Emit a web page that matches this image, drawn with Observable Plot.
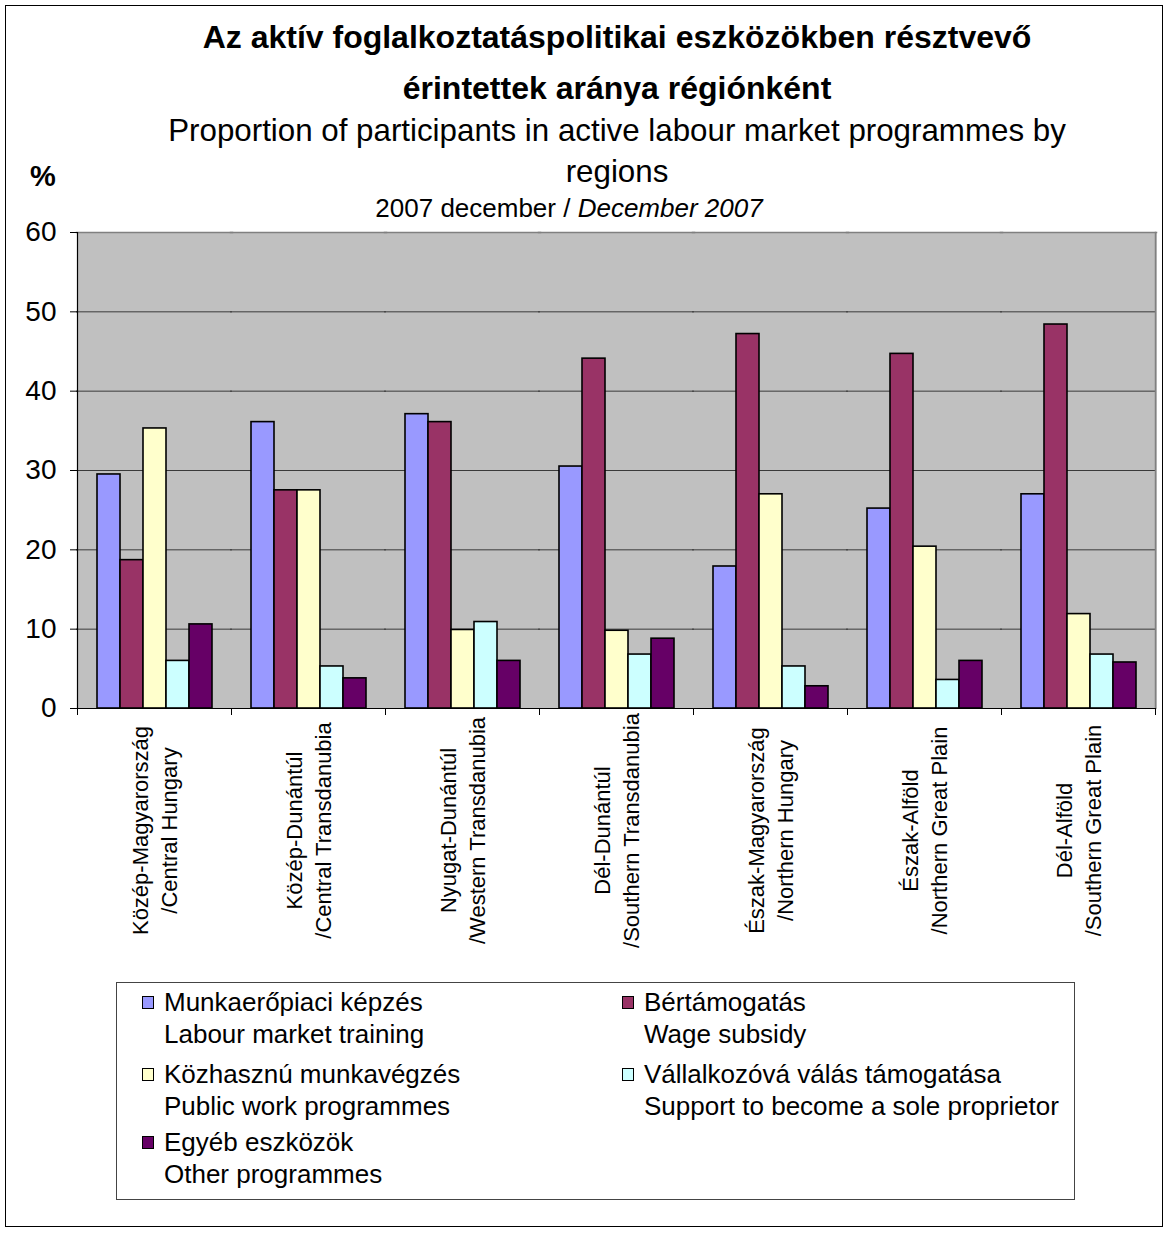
<!DOCTYPE html>
<html><head><meta charset="utf-8">
<script src="https://cdn.jsdelivr.net/npm/d3@7"></script>
<script src="https://cdn.jsdelivr.net/npm/@observablehq/plot@0.6"></script>
<style>
body{margin:0;background:#fff;font-family:"Liberation Sans",Arial,sans-serif;color:#000;}
#page{position:relative;width:1167px;height:1234px;overflow:hidden;}
#border{position:absolute;left:5px;top:5px;width:1158px;height:1222px;border:1px solid #000;box-sizing:border-box;}
.t{position:absolute;left:0;width:1234px;text-align:center;white-space:nowrap;line-height:1;}
#chart{position:absolute;left:0;top:200px;}
#legend{position:absolute;left:116px;top:982px;width:959px;height:218px;border:1px solid #444;box-sizing:border-box;}
.item{position:absolute;font-size:26px;line-height:32px;white-space:nowrap;}
.sw{position:absolute;width:10px;height:11px;border:1.5px solid #000;}
</style></head>
<body><div id="page">
<div id="border"></div>
<div class="t" style="top:21px;font-size:32px;font-weight:bold;">Az aktív foglalkoztatáspolitikai eszközökben résztvevő</div>
<div class="t" style="top:72px;font-size:32px;font-weight:bold;">érintettek aránya régiónként</div>
<div class="t" style="top:115px;font-size:31.3px;">Proportion of participants in active labour market programmes by</div>
<div class="t" style="top:156px;font-size:31.3px;">regions</div>
<div class="t" style="top:195px;font-size:26px;left:0;width:1138px;">2007 december / <i>December 2007</i></div>
<div style="position:absolute;left:30px;top:162px;font-size:29px;font-weight:bold;line-height:1;">%</div>
<div id="chart"></div>
<div id="legend"></div>
</div>
<script>
const regions = ["Közép-Magyarország","Közép-Dunántúl","Nyugat-Dunántúl","Dél-Dunántúl","Észak-Magyarország","Észak-Alföld","Dél-Alföld"];
const regionsEn = ["/Central Hungary","/Central Transdanubia","/Western Transdanubia","/Southern Transdanubia","/Northern Hungary","/Northern Great Plain","/Southern Great Plain"];
const seriesHu = ["Munkaerőpiaci képzés","Bértámogatás","Közhasznú munkavégzés","Vállalkozóvá válás támogatása","Egyéb eszközök"];
const seriesEn = ["Labour market training","Wage subsidy","Public work programmes","Support to become a sole proprietor","Other programmes"];
const colors = ["#9999FF","#993366","#FFFFCC","#CCFFFF","#660066"];
const training       = [29.5, 36.1, 37.1, 30.5, 17.9, 25.2, 27.0];
const wageSubsidy    = [18.7, 27.5, 36.1, 44.1, 47.2, 44.7, 48.4];
const publicWork     = [35.3, 27.5,  9.9,  9.8, 27.0, 20.4, 11.9];
const soleProprietor = [ 6.0,  5.3, 10.9,  6.8,  5.3,  3.6,  6.8];
const otherProgs     = [10.6,  3.8,  6.0,  8.8,  2.8,  6.0,  5.8];
const yTicks = [0, 10, 20, 30, 40, 50, 60];

const seriesValues = [training, wageSubsidy, publicWork, soleProprietor, otherProgs];
const table = [];
regions.forEach((r, i) => seriesHu.forEach((s, j) => table.push({region: r, series: s, value: seriesValues[j][i]})));
const labels = regions.map((r, i) => ({region: r, label: r + "\n" + regionsEn[i]}));

const chart = Plot.plot({
  width: 1167, height: 760,
  marginTop: 32, marginBottom: 252, marginLeft: 75, marginRight: 11,
  style: {fontFamily: "Liberation Sans, Arial, sans-serif", background: "transparent", color: "#000"},
  fx: {domain: regions, padding: 0, axis: null, label: null},
  x: {domain: seriesHu, paddingInner: 0, paddingOuter: 0.78, axis: null},
  y: {domain: [0, 60], axis: null},
  color: {domain: seriesHu, range: colors},
  marks: [
    Plot.frame({fill: "#c0c0c0", insetLeft: -1, insetRight: -1, shapeRendering: "crispEdges"}),
    Plot.gridY(yTicks, {stroke: "#3a3a3a", strokeOpacity: 1, strokeWidth: 1, insetLeft: -1, insetRight: -1}),
    Plot.frame({anchor: "top", stroke: "#808080", strokeWidth: 1.5, insetLeft: -1, insetRight: -1}),
    Plot.frame({anchor: "right", stroke: "#808080", strokeWidth: 1.5, facetAnchor: "right"}),
    Plot.barY(table, {fx: "region", x: "series", y: "value", fill: "series", stroke: "#000", strokeWidth: 1.6}),
    Plot.ruleY([0], {stroke: "#000", strokeWidth: 1.2, insetLeft: -1, insetRight: -1}),
    Plot.frame({anchor: "left", stroke: "#000", strokeWidth: 1.2, facetAnchor: "left"}),
    Plot.frame({anchor: "left", stroke: "#000", insetTop: 476, insetBottom: -6}),
    Plot.frame({anchor: "right", stroke: "#000", insetTop: 476, insetBottom: -6}),
    Plot.axisY(yTicks, {tickSize: 7, tickPadding: 14, fontSize: 28, stroke: "#000", fill: "#000", label: null}),
    Plot.text(labels, {fx: "region", text: "label", frameAnchor: "bottom", rotate: -90, textAnchor: "middle", lineAnchor: "middle", dy: 122, dx: -1, fontSize: 22, lineHeight: 1.3, fill: "#000"})
  ]
});
document.getElementById("chart").appendChild(chart);

const legend = document.getElementById("legend");
const cols = [{sw: 25, tx: 47}, {sw: 505, tx: 527}];
const rowTops = [3, 75, 143];
seriesHu.forEach((s, j) => {
  const c = cols[j % 2], top = rowTops[Math.floor(j / 2)];
  const sw = document.createElement("div");
  sw.className = "sw";
  sw.style.left = c.sw + "px";
  sw.style.top = (top + 10) + "px";
  sw.style.background = colors[j];
  legend.appendChild(sw);
  const tx = document.createElement("div");
  tx.className = "item";
  tx.style.left = c.tx + "px";
  tx.style.top = top + "px";
  tx.innerHTML = s + "<br>" + seriesEn[j];
  legend.appendChild(tx);
});
</script>
</body></html>
